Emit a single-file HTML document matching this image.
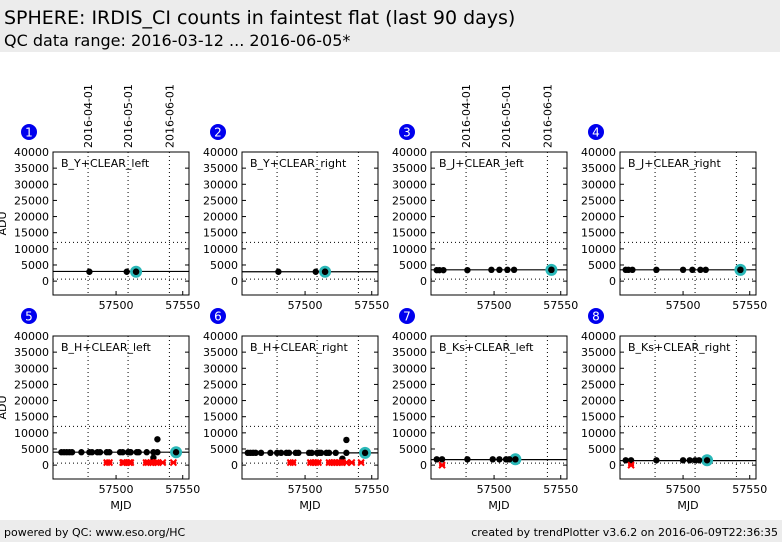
<!DOCTYPE html>
<html><head><meta charset="utf-8"><style>
body{margin:0;background:#fff;width:782px;height:542px;overflow:hidden;font-family:"DejaVu Sans","Liberation Sans",sans-serif}
svg text{font-family:"DejaVu Sans","Liberation Sans",sans-serif}
</style></head><body>
<svg id="c" width="782" height="542" xmlns="http://www.w3.org/2000/svg">
<rect x="0" y="0" width="780" height="52" fill="#ececec"/>
<text x="4" y="24" font-size="19" fill="#000">SPHERE: IRDIS_CI counts in faintest flat (last 90 days)</text>
<text x="4" y="46" font-size="16" fill="#000">QC data range: 2016-03-12 ... 2016-06-05*</text>
<rect x="0" y="520" width="782" height="22" fill="#ececec"/>
<text x="4" y="536" font-size="11">powered by QC: www.eso.org/HC</text>
<text x="778" y="536" font-size="11" text-anchor="end">created by trendPlotter v3.6.2 on 2016-06-09T22:36:35</text>
<g id="plots"></g>
</svg>
<script>
const panelNames=["B_Y+CLEAR_left","B_Y+CLEAR_right","B_J+CLEAR_left","B_J+CLEAR_right","B_H+CLEAR_left","B_H+CLEAR_right","B_Ks+CLEAR_left","B_Ks+CLEAR_right"];
const p1x=[57480,57508,57515];const p1y=[2900,2900,2900];
const p2x=[57480,57508,57515];const p2y=[2900,2900,2900];
const p3x=[57457,57459,57462,57480,57498,57504,57510,57515,57543];const p3y=[3400,3400,3400,3400,3500,3500,3500,3500,3500];
const p4x=[57457,57459,57462,57480,57500,57507,57513,57517,57543];const p4y=[3500,3500,3500,3500,3500,3500,3500,3500,3500];
const p5x=[57459,57461,57463,57465,57467,57474,57480,57482,57486,57488,57493,57495,57503,57505,57509,57510.5,57511,57515.5,57517,57523,57528,57528,57531,57531];
const p5y=[4000,4000,4000,4000,4000,4000,4000,4000,4000,4000,4000,4000,4000,4000,4000,4000,4000,4000,4000,4000,2300,4000,4000,8000];
const p6x=[57457,57459,57461,57463,57467,57474,57479,57482,57486,57488,57493,57495,57503,57505,57509,57510.5,57512,57516,57518,57523,57528,57531,57531];
const p6y=[3800,3800,3800,3800,3800,3800,3800,3800,3800,3800,3800,3800,3800,3800,3800,3800,3800,3800,3800,3800,2000,3800,7800];
const p7x=[57457,57461,57480,57499,57504,57509,57511.5];const p7y=[1800,1800,1800,1800,1800,1800,1800];
const p8x=[57457,57461,57480,57500,57505,57509,57512];const p8y=[1500,1500,1500,1500,1500,1500,1500];
const hlX=[57515,57515,57543,57543,57545,57545,57516,57518];
const hlY=[2900,2900,3500,3500,4000,3800,1800,1500];
const medians=[3000,2900,3500,3500,4000,3800,1700,1400];
const r5x=[57493,57495,57505,57506,57508,57510,57511,57522.5,57524,57526,57527.7,57530,57531.5,57535,57543];
const r5y=[800,800,800,800,800,800,800,800,800,800,800,800,800,800,800];
const r6x=[57489,57491,57504,57506,57508,57510,57518,57520,57522,57524,57526,57528,57531,57535,57542];
const r6y=[800,800,800,800,800,800,800,800,800,800,800,800,800,800,800];
const r7x=[57461];const r7y=[0];
const r8x=[57461];const r8y=[0];
const blackX=[p1x,p2x,p3x,p4x,p5x,p6x,p7x,p8x];
const blackY=[p1y,p2y,p3y,p4y,p5y,p6y,p7y,p8y];
const redX=[[],[],[],[],r5x,r6x,r7x,r8x];
const redY=[[],[],[],[],r5y,r6y,r7y,r8y];
const yTicks=[0,5000,10000,15000,20000,25000,30000,35000,40000];
const xTicks=[57500,57550];
const dateTicks=[57479,57509,57540];
const dateLabels=["2016-04-01","2016-05-01","2016-06-01"];
const thresholds=[12000,600];
const X0=57452.7,X1=57554.7,YMIN=-4300,YMAX=40000;
const NS="http://www.w3.org/2000/svg";
const root=document.getElementById('plots');
function mk(tag,attrs,parent){const e=document.createElementNS(NS,tag);for(const k in attrs)e.setAttribute(k,attrs[k]);(parent||root).appendChild(e);return e;}
const cols=[53,242,431,620],rows=[152,336],W=136,H=143;
for(let i=0;i<8;i++){
  const L=cols[i%4],T=rows[Math.floor(i/4)];
  const sx=m=>L+(m-X0)/(X1-X0)*W;
  const sy=v=>T+(YMAX-v)/(YMAX-YMIN)*H;
  const g=mk('g',{});
  
  
  // date verticals
  dateTicks.forEach((d,k)=>{
    const l=mk('line',{x1:sx(d),x2:sx(d),y1:T,y2:T+H,stroke:'#000','stroke-dasharray':'1,3','stroke-width':1},g);
    
    
    if(i===0||i===2){
      const t=mk('text',{x:0,y:0,'font-size':11,transform:`translate(${sx(d)+4},${T-4}) rotate(-90)`},g);
      t.textContent=dateLabels[k];
      
      
    }
  });
  thresholds.forEach(v=>{
    const l=mk('line',{x1:L,x2:L+W,y1:sy(v),y2:sy(v),stroke:'#000','stroke-dasharray':'1,3'},g);
    
    
  });
  const ml=mk('line',{x1:L,x2:L+W,y1:sy(medians[i]),y2:sy(medians[i]),stroke:'#000','stroke-width':1.2},g);
  
  
  // highlight
  const hc=mk('circle',{cx:sx(hlX[i]),cy:sy(hlY[i]),r:6,fill:'#2ab8b8'},g);
  
  
  mk('circle',{cx:sx(hlX[i]),cy:sy(hlY[i]),r:3.2,fill:'#000'},g);
  blackX[i].forEach((m,k)=>{
    const c=mk('circle',{cx:sx(m),cy:sy(blackY[i][k]),r:3.2,fill:'#000'},g);
    
    
  });
  redX[i].forEach((m,k)=>{
    const x=sx(m),y=sy(redY[i][k]);
    const t=mk('path',{d:`M${x-3},${y-3}L${x+3},${y+3}M${x+3},${y-3}L${x-3},${y+3}M${x-3},${y}L${x+3},${y}`,stroke:'#f00','stroke-width':2},g);
    
    
  });
  const fr=mk('rect',{x:L,y:T,width:W,height:H,fill:'none',stroke:'#000','stroke-width':1},g);
  
  
  yTicks.forEach(v=>{
    mk('line',{x1:L,x2:L+4,y1:sy(v),y2:sy(v),stroke:'#000'},g);
    mk('line',{x1:L+W-4,x2:L+W,y1:sy(v),y2:sy(v),stroke:'#000'},g);
    const t=mk('text',{x:L-4,y:sy(v)+4,'font-size':11,'text-anchor':'end'},g);
    t.textContent=v;
    
    
  });
  xTicks.forEach(v=>{
    mk('line',{x1:sx(v),x2:sx(v),y1:T+H,y2:T+H-4,stroke:'#000'},g);
    const t=mk('text',{x:sx(v),y:T+H+14,'font-size':11,'text-anchor':'middle'},g);
    t.textContent=v;
    
    
  });
  const nm=mk('text',{x:L+8,y:T+15,'font-size':11},g);
  nm.textContent=panelNames[i];
  
  
  const bc=mk('circle',{cx:L-24,cy:T-20,r:8,fill:'#0000ee'},g);
  
  
  const bn=mk('text',{x:L-24,y:T-15.5,'font-size':12,'text-anchor':'middle',fill:'#fff'},g);
  bn.textContent=i+1;
  
  
  if(i%4===0){
    const yl=mk('text',{x:0,y:0,'font-size':11,'text-anchor':'middle',transform:`translate(6,${T+H/2}) rotate(-90)`},g);
    yl.textContent='ADU';
    
    
  }
  if(i>=4){
    const xl=mk('text',{x:L+W/2,y:509,'font-size':11,'text-anchor':'middle'},g);
    xl.textContent='MJD';
    
    
  }
}
</script>
</body></html>
